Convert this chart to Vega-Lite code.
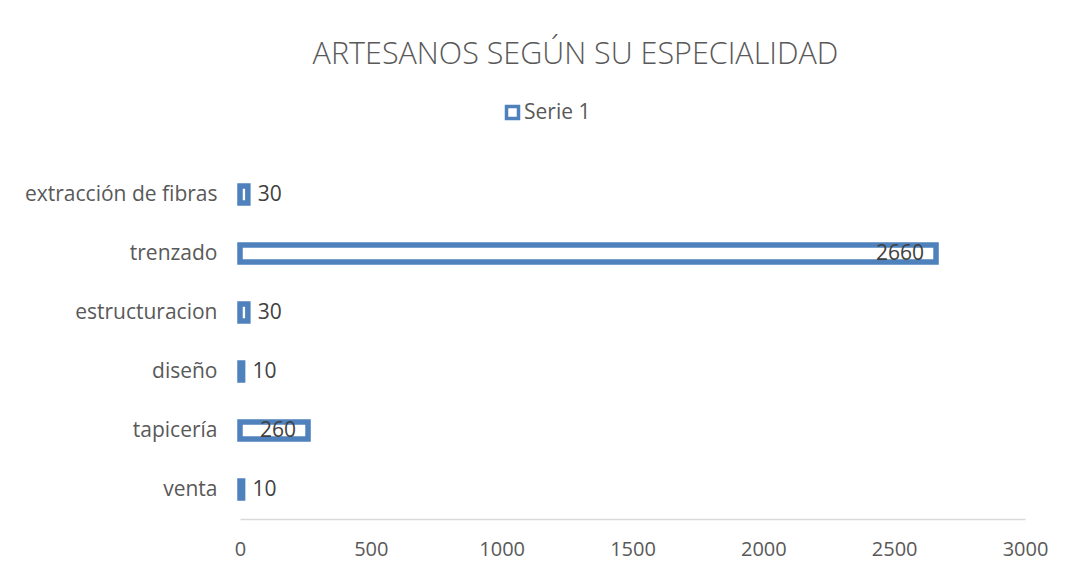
{
  "$schema": "https://vega.github.io/schema/vega-lite/v6.json",
  "autosize": "none",
  "width": 785,
  "height": 354,
  "padding": {"left": 240, "top": 165, "right": 40, "bottom": 54},
  "background": "white",
  "title": {
    "text": "ARTESANOS SEGÚN SU ESPECIALIDAD",
    "anchor": "middle",
    "frame": "group",
    "dx": -57,
    "offset": 8,
    "baseline": "alphabetic",
    "font": "Open Sans",
    "fontSize": 30.5,
    "fontWeight": 300,
    "color": "#595959"
  },
  "data": {
    "values": [
      {"especialidad": "extracción de fibras", "artesanos": 30, "serie": "Serie 1"},
      {"especialidad": "trenzado", "artesanos": 2660, "serie": "Serie 1"},
      {"especialidad": "estructuracion", "artesanos": 30, "serie": "Serie 1"},
      {"especialidad": "diseño", "artesanos": 10, "serie": "Serie 1"},
      {"especialidad": "tapicería", "artesanos": 260, "serie": "Serie 1"},
      {"especialidad": "venta", "artesanos": 10, "serie": "Serie 1"}
    ]
  },
  "encoding": {
    "y": {
      "field": "especialidad",
      "type": "nominal",
      "sort": null,
      "scale": {"paddingInner": 0, "paddingOuter": 0},
      "axis": {
        "title": null,
        "domain": false,
        "ticks": false,
        "labelPadding": 23,
        "labelLimit": 400,
        "labelFont": "Open Sans",
        "labelFontSize": 21,
        "labelColor": "#595959"
      }
    },
    "x": {
      "field": "artesanos",
      "type": "quantitative",
      "scale": {"domain": [0, 3000], "nice": false},
      "axis": {
        "title": null,
        "values": [0, 500, 1000, 1500, 2000, 2500, 3000],
        "format": "d",
        "grid": false,
        "ticks": false,
        "domainColor": "#d9d9d9",
        "domainWidth": 1.5,
        "labelPadding": 20,
        "labelFont": "Open Sans",
        "labelFontSize": 20,
        "labelColor": "#595959",
        "labelFlush": false
      }
    }
  },
  "layer": [
    {
      "mark": {"type": "bar", "size": 17, "fill": "white", "strokeWidth": 5.5},
      "encoding": {
        "stroke": {
          "field": "serie",
          "type": "nominal",
          "scale": {"range": ["#4f81bd"]},
          "legend": {
            "title": null,
            "orient": "none",
            "legendX": 262,
            "legendY": -63,
            "symbolType": "square",
            "symbolSize": 144,
            "symbolStrokeWidth": 3.5,
            "symbolFillColor": "white",
            "labelFont": "Open Sans",
            "labelFontSize": 21,
            "labelColor": "#595959",
            "labelOffset": 1
          }
        }
      }
    },
    {
      "transform": [{"filter": "datum.artesanos < 100"}],
      "mark": {"type": "text", "align": "left", "baseline": "middle", "dx": 10, "font": "Open Sans", "fontSize": 21, "color": "#404040"},
      "encoding": {"text": {"field": "artesanos", "type": "quantitative"}}
    },
    {
      "transform": [{"filter": "datum.artesanos >= 100"}],
      "mark": {"type": "text", "align": "right", "baseline": "middle", "dx": -12, "font": "Open Sans", "fontSize": 21, "color": "#404040"},
      "encoding": {"text": {"field": "artesanos", "type": "quantitative"}}
    }
  ],
  "config": {"view": {"stroke": null}}
}
